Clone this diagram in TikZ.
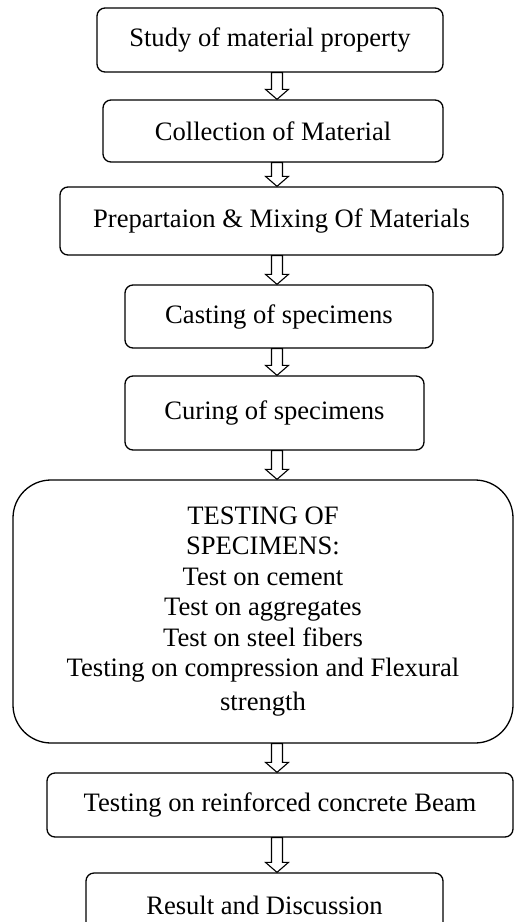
\documentclass[tikz,border=0pt]{standalone}
\usepackage{fontspec}
\setmainfont{Liberation Serif}
\usetikzlibrary{calc}
\tikzset{
  stepbox/.style={draw=black, line width=1.3pt, rounded corners=8pt, fill=white,
    inner sep=0pt, align=center, font=\fontsize{26.6}{30.5}\selectfont},
  bigbox/.style={stepbox, rounded corners=38pt},
  blockarr/.style={draw=black, line width=1.1pt, fill=white, line join=miter}
}
\newcommand\blockarrow[2]{%
  \draw[blockarr] ($(#1.south -| ax)+(-5.5,0)$) -- ($(#2.north -| ax)+(-5.5,-10)$)
    -- ($(#2.north -| ax)+(-11.5,-10)$) -- (#2.north -| ax)
    -- ($(#2.north -| ax)+(11.5,-10)$) -- ($(#2.north -| ax)+(5.5,-10)$)
    -- ($(#1.south -| ax)+(5.5,0)$) -- cycle;}
\begin{document}
\begin{tikzpicture}[x=1pt, y=-1pt]
\useasboundingbox (0,0) rectangle (514,922);
\coordinate (ax) at (277,0);
\node[stepbox, minimum width=346pt, minimum height=64pt] (b1) at (270,40) {Study of material property};
\node[stepbox, minimum width=340pt, minimum height=62pt] (b2) at (273,131) {Collection of Material};
\node[stepbox, minimum width=443pt, minimum height=68pt] (b3) at (281.5,221) {Prepartaion \& Mixing Of Materials};
\node[stepbox, minimum width=308pt, minimum height=63pt] (b4) at (279,316.5) {Casting of specimens};
\node[stepbox, minimum width=299pt, minimum height=74pt] (b5) at (274.5,413) {Curing of specimens};
\node[bigbox, minimum width=500pt, minimum height=263pt] (b6) at (263,611.5) {TESTING OF\\SPECIMENS:\\Test on cement\\Test on aggregates\\Test on steel fibers\\Testing on compression and Flexural\\[3pt]strength};
\node[stepbox, minimum width=466pt, minimum height=64pt] (b7) at (280,805) {Testing on reinforced concrete Beam};
\node[stepbox, minimum width=357pt, minimum height=64pt] (b8) at (264.5,905) {Result and Discussion};
\blockarrow{b1}{b2}
\blockarrow{b2}{b3}
\blockarrow{b3}{b4}
\blockarrow{b4}{b5}
\blockarrow{b5}{b6}
\blockarrow{b6}{b7}
\blockarrow{b7}{b8}
\end{tikzpicture}
\end{document}
